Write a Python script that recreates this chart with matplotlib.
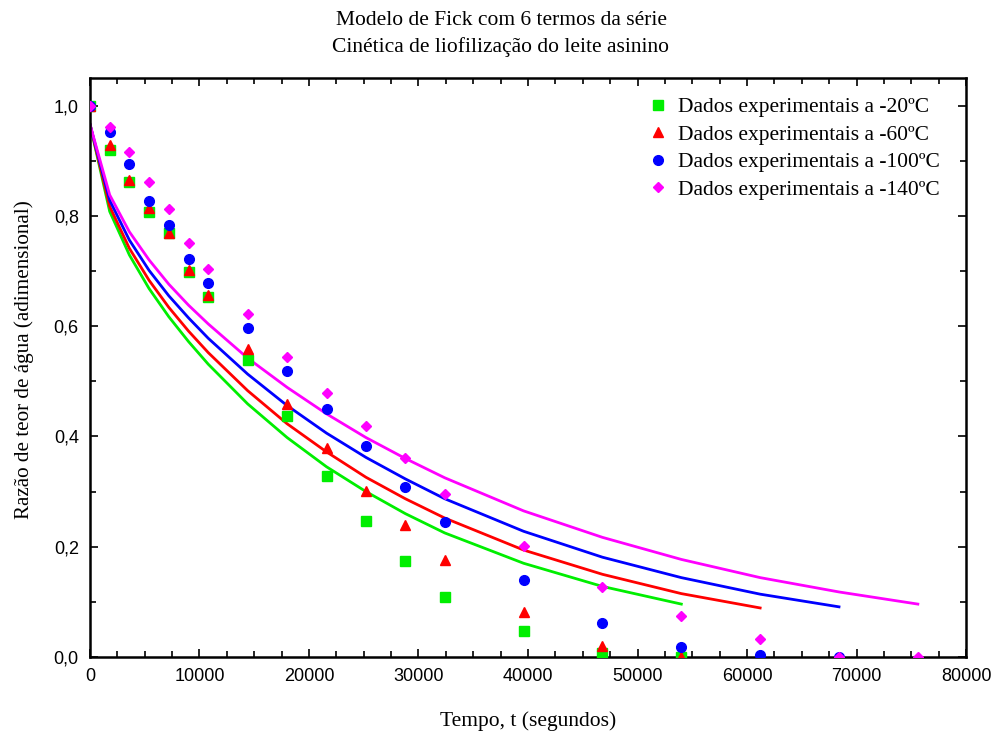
import numpy as np
import matplotlib
matplotlib.use("Agg")
import matplotlib.pyplot as plt
from matplotlib.ticker import MultipleLocator, FuncFormatter

# tempo de secagem (s)
tempo = [0, 1800, 3600, 5400, 7200, 9000, 10800, 14400, 18000, 21600,
         25200, 28800, 32400, 39600, 46800, 54000, 61200, 68400, 75600]

# dados experimentais (razao de teor de agua)
exp_20 = [1.0, 0.920, 0.862, 0.807, 0.769, 0.698, 0.653, 0.538, 0.437, 0.328,
          0.246, 0.175, 0.109, 0.047, 0.008, 0.0]
exp_60 = [1.0, 0.929, 0.865, 0.815, 0.769, 0.702, 0.656, 0.558, 0.458, 0.379,
          0.301, 0.239, 0.176, 0.082, 0.020, 0.0, 0.0]
exp_100 = [1.0, 0.952, 0.894, 0.827, 0.784, 0.722, 0.679, 0.597, 0.519, 0.449,
           0.382, 0.308, 0.245, 0.139, 0.062, 0.019, 0.004, 0.0]
exp_140 = [1.0, 0.962, 0.915, 0.861, 0.813, 0.751, 0.704, 0.622, 0.544, 0.478,
           0.419, 0.361, 0.295, 0.201, 0.127, 0.075, 0.033, 0.0, 0.0]

# modelo de Fick (6 termos)
fick_20 = [0.966, 0.808, 0.729, 0.668, 0.617, 0.572, 0.531, 0.459, 0.398, 0.345,
           0.300, 0.260, 0.225, 0.170, 0.128, 0.096]
fick_60 = [0.966, 0.817, 0.741, 0.683, 0.634, 0.591, 0.552, 0.483, 0.423, 0.372,
           0.326, 0.287, 0.252, 0.194, 0.150, 0.115, 0.089]
fick_100 = [0.966, 0.828, 0.756, 0.701, 0.655, 0.615, 0.578, 0.513, 0.456, 0.406,
            0.362, 0.323, 0.287, 0.228, 0.181, 0.144, 0.114, 0.091]
fick_140 = [0.966, 0.838, 0.771, 0.720, 0.676, 0.638, 0.604, 0.542, 0.489, 0.441,
            0.398, 0.360, 0.325, 0.265, 0.217, 0.177, 0.144, 0.118, 0.096]

legendas = ["Dados experimentais a -20ºC", "Dados experimentais a -60ºC",
            "Dados experimentais a -100ºC", "Dados experimentais a -140ºC"]

serif = "Liberation Serif"
sans = "Liberation Sans"

fig = plt.figure(figsize=(10.02, 7.37), dpi=100)
ax = fig.add_axes([0.0898, 0.1085, 0.8743, 0.7857])

series = [
    (exp_20, fick_20, "#00ee00", "s", 6.5),
    (exp_60, fick_60, "#ff0000", "^", 7.0),
    (exp_100, fick_100, "#0000ff", "o", 7.0),
    (exp_140, fick_140, "#ff00ff", "D", 5.5),
]

for dados, modelo, cor, marca, ms in series:
    ax.plot(tempo[:len(modelo)], modelo, color=cor, lw=2.0, zorder=2)

for (dados, modelo, cor, marca, ms), nome in zip(series, legendas):
    ax.plot(tempo[:len(dados)], dados, ls="none", marker=marca, ms=ms,
            color=cor, mec=cor, label=nome, zorder=3)

ax.set_xlim(0, 80000)
ax.set_ylim(0, 1.05)
ax.xaxis.set_major_locator(MultipleLocator(10000))
ax.xaxis.set_minor_locator(MultipleLocator(2500))
ax.yaxis.set_major_locator(MultipleLocator(0.2))
ax.yaxis.set_minor_locator(MultipleLocator(0.1))
ax.yaxis.set_major_formatter(FuncFormatter(lambda v, p: f"{v:.1f}".replace(".", ",")))
ax.xaxis.set_major_formatter(FuncFormatter(lambda v, p: f"{v:.0f}"))

ax.tick_params(which="both", direction="in", top=True, right=True, width=1.2)
ax.tick_params(which="major", length=6, pad=8, labelsize=13)
ax.tick_params(which="minor", length=4)
for lab in ax.get_xticklabels() + ax.get_yticklabels():
    lab.set_family(sans)
for sp in ax.spines.values():
    sp.set_linewidth(1.8)

ax.set_xlabel("Tempo, t (segundos)", family=serif, fontsize=15.5, labelpad=19)
ax.set_ylabel("Razão de teor de água (adimensional)", family=serif, fontsize=15.2)
ax.yaxis.set_label_coords(-0.064, 0.513)

fig.text(0.5, 0.972, "Modelo de Fick com 6 termos da série", ha="center", va="center",
         family=serif, fontsize=15.5)
fig.text(0.5, 0.936, "Cinética de liofilização do leite asinino", ha="center", va="center",
         family=serif, fontsize=15.5)

leg = ax.legend(loc="upper left", frameon=False, prop={"family": serif, "size": 15.5},
                handlelength=0.6, handletextpad=0.65, labelspacing=0.35,
                borderaxespad=0, borderpad=0, bbox_to_anchor=(0.641, 0.967))

fig.savefig("out.png", dpi=100)
